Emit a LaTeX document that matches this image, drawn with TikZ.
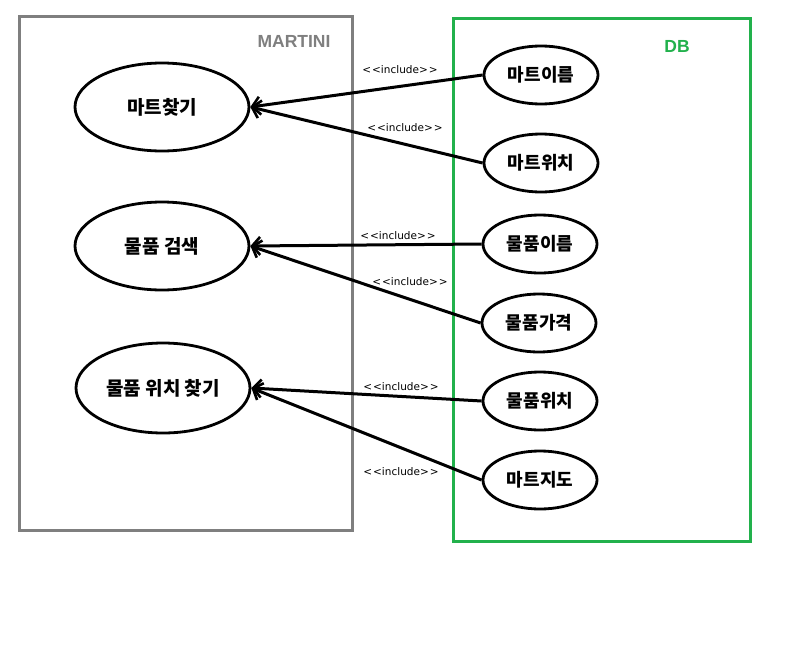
\documentclass[tikz,border=0pt]{standalone}
\usepackage{fontspec}
\setmainfont{Liberation Sans}
\newfontfamily\kr{Noto Sans CJK KR}
\newfontfamily\lab{DejaVu Sans}
\usetikzlibrary{shapes.geometric,arrows.meta}
\definecolor{boxgray}{RGB}{127,127,127}
\definecolor{dbgreen}{RGB}{34,177,76}
\newcommand{\incl}{{\lab <\kern1pt<include>\kern1pt>}}
\begin{document}
\begin{tikzpicture}[x=1pt,y=-1pt,
  usecase/.style={ellipse,draw=black,line width=2.8pt,minimum width=174pt,minimum height=88pt,inner sep=0pt,font=\kr\bfseries\fontsize{19}{22}\selectfont},
  attr/.style={ellipse,draw=black,line width=2.8pt,minimum width=114pt,minimum height=58pt,inner sep=0pt,font=\kr\bfseries\fontsize{18}{21}\selectfont},
  inc/.style={draw=black,line width=3pt,-{Straight Barb[length=8pt,width=18pt,line width=2.6pt]}},
  inclabel/.style={font=\fontsize{10.5}{12}\selectfont,inner sep=1pt}]
\useasboundingbox (0,0) rectangle (797,648);
\fill[white] (0,0) rectangle (797,648);
% boxes
\draw[boxgray,line width=3pt] (19,16) rectangle (352,530);
\draw[dbgreen,line width=3pt] (453,18) rectangle (750,541);
\node[text=boxgray,font=\bfseries\fontsize{17.5}{20}\selectfont] (martini) at (294,41) {MARTINI};
\node[text=dbgreen,font=\bfseries\fontsize{17.5}{20}\selectfont] (db) at (677,46) {DB};
% use cases
\node[usecase] (u1) at (162,107) {마트찾기};
\node[usecase] (u2) at (162,246) {물품 검색};
\node[usecase,minimum height=90pt] (u3) at (163,388) {물품 위치 찾기};
% attributes
\node[attr] (a1) at (541,75) {마트이름};
\node[attr] (a2) at (541,163) {마트위치};
\node[attr] (a3) at (540,244) {물품이름};
\node[attr] (a4) at (539,323) {물품가격};
\node[attr] (a5) at (540,401) {물품위치};
\node[attr] (a6) at (540,480) {마트지도};
% connectors
\draw[inc] (a1.west) -- (u1.east);
\draw[inc] (a2.west) -- (u1.east);
\draw[inc] (a3.west) -- (u2.east);
\draw[inc] (a4.west) -- (u2.east);
\draw[inc] (a5.west) -- (u3.east);
\draw[inc] (a6.west) -- (u3.east);
% labels
\node[inclabel] (l1) at (400,70) {\incl};
\node[inclabel] (l2) at (405,128) {\incl};
\node[inclabel] (l3) at (398,236) {\incl};
\node[inclabel] (l4) at (410,282) {\incl};
\node[inclabel] (l5) at (401,387) {\incl};
\node[inclabel] (l6) at (401,472) {\incl};
\end{tikzpicture}
\end{document}
